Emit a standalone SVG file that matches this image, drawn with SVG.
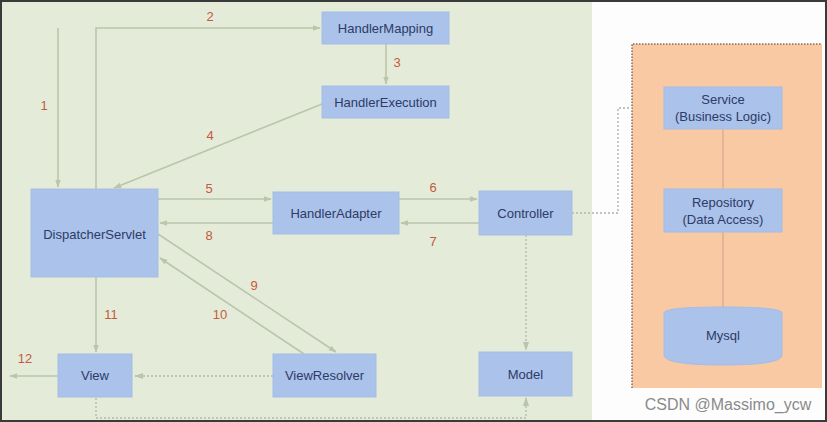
<svg xmlns="http://www.w3.org/2000/svg" width="827" height="422" viewBox="0 0 827 422">
<defs>
<style>
.node rect, .node path { fill:#abc2ea; stroke:#a4bde6; stroke-width:1; }
.node text { font-family:"Liberation Sans", Arial, sans-serif; font-size:13px; fill:#2d3b66; text-anchor:middle; }
.lbl { font-family:"Liberation Sans", Arial, sans-serif; font-size:13px; fill:#c55a3c; text-anchor:middle; }
.c { fill:none; stroke:#b9c6ab; stroke-width:1.6; }
.d { fill:none; stroke:#bfc6b7; stroke-width:1.8; stroke-dasharray:2 2; }
</style>
<marker id="ah" viewBox="0 0 10 10" refX="9" refY="5" markerWidth="5" markerHeight="5" orient="auto-start-reverse">
<path d="M0,1.5 L10,5 L0,8.5 z" fill="#b9c6ab"/>
</marker>
</defs>
<rect x="0" y="0" width="827" height="422" fill="#fdfdfd"/>
<rect x="0" y="0" width="592" height="422" fill="#e4ecd9"/>
<rect x="632" y="44" width="190" height="344" fill="#f9c9a3"/>
<path d="M632,388 L632,44 L822,44" fill="none" stroke="#8a6a5a" stroke-width="1.5" stroke-dasharray="1.5 1.5"/>
<g id="connectors">
<path class="c" d="M58,28 L58,187" marker-end="url(#ah)"/>
<path class="c" d="M96,189 L96,28 L320,28" marker-end="url(#ah)"/>
<path class="c" d="M386,44 L386,84" marker-end="url(#ah)"/>
<path class="c" d="M322,104 L114,188" marker-end="url(#ah)"/>
<path class="c" d="M158,199 L271,199" marker-end="url(#ah)"/>
<path class="c" d="M273,223 L160,223" marker-end="url(#ah)"/>
<path class="c" d="M399,199 L477,199" marker-end="url(#ah)"/>
<path class="c" d="M479,223 L401,223" marker-end="url(#ah)"/>
<path class="c" d="M158,234 L336,352" marker-end="url(#ah)"/>
<path class="c" d="M304,354 L160,258" marker-end="url(#ah)"/>
<path class="c" d="M96,277 L96,352" marker-end="url(#ah)"/>
<path class="c" d="M58,376 L10,376" marker-end="url(#ah)"/>
<path class="d" d="M273,376 L135,376" marker-end="url(#ah)"/>
<path class="d" d="M526,235 L526,350" marker-end="url(#ah)"/>
<path class="d" d="M96,398 L96,418 L526,418 L526,398" marker-end="url(#ah)"/>
<path class="d" d="M572,213 L618,213 L618,108 L632,108"/>
<path d="M723,129 L723,189 M723,232 L723,309" fill="none" stroke="#e3b596" stroke-width="2"/>
<text class="lbl" x="44" y="110">1</text>
<text class="lbl" x="210" y="21">2</text>
<text class="lbl" x="397" y="67">3</text>
<text class="lbl" x="210" y="140">4</text>
<text class="lbl" x="209" y="193">5</text>
<text class="lbl" x="433" y="192">6</text>
<text class="lbl" x="433" y="246">7</text>
<text class="lbl" x="209" y="240">8</text>
<text class="lbl" x="254" y="290">9</text>
<text class="lbl" x="220" y="319">10</text>
<text class="lbl" x="111" y="319">11</text>
<text class="lbl" x="25" y="363">12</text>
</g>
<g id="HandlerMapping" class="node"><rect x="322" y="12" width="127" height="32"/><text x="385.5" y="33">HandlerMapping</text></g>
<g id="HandlerExecution" class="node"><rect x="322" y="86" width="127" height="32"/><text x="385.5" y="107">HandlerExecution</text></g>
<g id="DispatcherServlet" class="node"><rect x="31" y="189" width="127" height="88"/><text x="94.5" y="239">DispatcherServlet</text></g>
<g id="HandlerAdapter" class="node"><rect x="273" y="192" width="126" height="42"/><text x="336" y="218">HandlerAdapter</text></g>
<g id="Controller" class="node"><rect x="479" y="191" width="93" height="44"/><text x="525.5" y="218">Controller</text></g>
<g id="View" class="node"><rect x="58" y="354" width="74" height="43"/><text x="95" y="380">View</text></g>
<g id="ViewResolver" class="node"><rect x="273" y="354" width="103" height="43"/><text x="324.5" y="380">ViewResolver</text></g>
<g id="Model" class="node"><rect x="479" y="352" width="93" height="44"/><text x="525.5" y="379">Model</text></g>
<g id="Service" class="node"><rect x="664" y="87" width="118" height="42"/><text x="723" y="104">Service</text><text x="723" y="121">(Business Logic)</text></g>
<g id="Repository" class="node"><rect x="664" y="189" width="118" height="43"/><text x="723" y="207">Repository</text><text x="723" y="224">(Data Access)</text></g>
<g id="Mysql" class="node"><path d="M664,313 Q664,307 723,307 Q782,307 782,313 L782,355 Q782,365 723,365 Q664,365 664,355 Z"/><text x="723" y="340">Mysql</text></g>
<text x="728" y="410" font-family="Liberation Sans, Arial, sans-serif" font-size="16" fill="#8a8a8a" text-anchor="middle">CSDN @Massimo_ycw</text>
<rect x="1" y="1" width="825" height="420" fill="none" stroke="#3a3a3a" stroke-width="2"/>
</svg>
